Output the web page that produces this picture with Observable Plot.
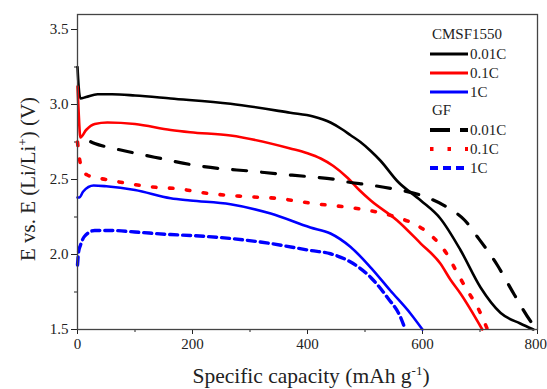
<!DOCTYPE html>
<html>
<head>
<meta charset="utf-8">
<script src="https://cdn.jsdelivr.net/npm/d3@7"></script>
<script src="https://cdn.jsdelivr.net/npm/@observablehq/plot@0.6"></script>
<style>
  html, body { margin: 0; padding: 0; background: #fff; }
  #chart { width: 547px; height: 389px; }
  #chart svg text { font-family: "Liberation Serif", "Times New Roman", serif; }
</style>
</head>
<body>
<div id="chart"></div>
<script>
// ---- tick values ----
const xMajor = [0, 200, 400, 600, 800];
const xMinor = [100, 300, 500, 700];
const yMajor = [1.5, 2.0, 2.5, 3.0, 3.5];
const yMinor = [1.75, 2.25, 2.75, 3.25];

// ---- legend labels ----
const legendGroups = ["CMSF1550", "GF"];
const legendRates = ["0.01C", "0.1C", "1C"];

// ---- CMSF1550 0.01C (black solid) ----
const cmsf001X = [0, 2, 5, 15, 35, 60, 100, 162, 266, 370, 410, 440, 460, 475, 492, 510, 527, 556, 597, 631, 666, 701, 736, 770, 793];
const cmsf001Y = [3.25, 3.12, 3.04, 3.05, 3.068, 3.068, 3.06, 3.04, 3.005, 2.945, 2.92, 2.88, 2.835, 2.795, 2.75, 2.69, 2.625, 2.49, 2.36, 2.24, 2.03, 1.78, 1.61, 1.54, 1.5];

// ---- CMSF1550 0.1C (red solid) ----
const cmsf01X = [0, 2, 5, 15, 30, 52, 100, 162, 196, 266, 370, 400, 423, 445, 470, 490, 510, 556, 597, 631, 649, 666, 704];
const cmsf01Y = [3.12, 2.95, 2.78, 2.83, 2.87, 2.88, 2.87, 2.83, 2.815, 2.793, 2.707, 2.675, 2.64, 2.59, 2.51, 2.43, 2.36, 2.227, 2.073, 1.94, 1.83, 1.74, 1.5];

// ---- CMSF1550 1C (blue solid) ----
const cmsf1X = [0, 3, 10, 28, 50, 100, 162, 196, 266, 336, 405, 440, 475, 510, 544, 579, 600];
const cmsf1Y = [2.38, 2.38, 2.42, 2.46, 2.455, 2.43, 2.375, 2.36, 2.335, 2.273, 2.18, 2.14, 2.05, 1.913, 1.76, 1.607, 1.5];

// ---- GF 0.01C (black dashed) ----
const gf001X = [0, 30, 60, 95, 145, 196, 248, 298, 349, 399, 449, 475, 501, 550, 601, 645, 673, 695, 730, 760, 791, 800];
const gf001Y = [2.8, 2.74, 2.71, 2.68, 2.64, 2.6, 2.573, 2.557, 2.537, 2.52, 2.5, 2.48, 2.467, 2.437, 2.39, 2.31, 2.23, 2.12, 1.93, 1.73, 1.54, 1.5];

// ---- GF 0.1C (red dotted) ----
const gf01X = [0, 3, 8, 17, 49, 78, 110, 139, 170, 228, 289, 350, 410, 470, 497, 532, 562, 591, 619, 643, 660, 678, 696, 713];
const gf01Y = [2.75, 2.65, 2.57, 2.53, 2.5, 2.48, 2.46, 2.447, 2.44, 2.407, 2.387, 2.373, 2.34, 2.315, 2.3, 2.273, 2.24, 2.193, 2.113, 2.0, 1.88, 1.76, 1.647, 1.5];

// ---- GF 1C (blue dashed) ----
const gf1X = [0, 2, 5, 12, 30, 60, 100, 162, 196, 266, 336, 405, 440, 475, 510, 539, 562, 570];
const gf1Y = [1.93, 2.02, 2.06, 2.12, 2.16, 2.16, 2.15, 2.133, 2.127, 2.107, 2.073, 2.027, 2.005, 1.95, 1.847, 1.713, 1.58, 1.5];

const toRows = (xs, ys) => xs.map((x, i) => ({x, y: ys[i]}));

const series = [
  {rows: toRows(cmsf001X, cmsf001Y), stroke: "#000000", w: 2.6, dash: null, off: 0},
  {rows: toRows(cmsf01X, cmsf01Y), stroke: "#ff0000", w: 2.6, dash: null, off: 0},
  {rows: toRows(cmsf1X, cmsf1Y), stroke: "#0000ff", w: 2.6, dash: null, off: 0},
  {rows: toRows(gf001X, gf001Y), stroke: "#000000", w: 3.2, dash: "14,15", off: 14},
  {rows: toRows(gf01X, gf01Y), stroke: "#ff0000", w: 3.6, dash: "3.5,13.5", off: 0},
  {rows: toRows(gf1X, gf1Y), stroke: "#0000ff", w: 3.4, dash: "8,5", off: 0}
];

const fontFam = "Liberation Serif";
const lastX = xMajor[xMajor.length - 1];

const chart = Plot.plot({
  width: 547,
  height: 389,
  marginLeft: 77,
  marginRight: 10,
  marginTop: 14,
  marginBottom: 60,
  style: {fontFamily: fontFam, fontSize: "15px", color: "#222", background: "#fff", overflow: "visible"},
  x: {domain: [0, 800]},
  y: {domain: [1.5, 3.6]},
  marks: [
    Plot.axisX({ticks: xMajor, tickSize: 5, tickPadding: 4, tickFormat: d => d === lastX ? "" : String(d), label: null, fontSize: 15, fontFamily: fontFam}),
    Plot.axisX({ticks: [lastX], tickSize: 0, tickPadding: 9, tickFormat: d => String(d), textAnchor: "end", dx: 9.5, label: null, fontSize: 15, fontFamily: fontFam}),
    Plot.axisX({ticks: xMinor, tickSize: 3, tickFormat: () => "", label: null}),
    Plot.axisY({ticks: yMajor, tickSize: 6, tickPadding: 3, tickFormat: d => d.toFixed(1), label: null, fontSize: 15, fontFamily: fontFam}),
    Plot.axisY({ticks: yMinor, tickSize: 3, tickFormat: () => "", label: null}),
    ...series.map(s => Plot.line(s.rows, {
      x: "x", y: "y", stroke: s.stroke, strokeWidth: s.w,
      strokeDasharray: s.dash, strokeDashoffset: s.off, curve: "monotone-x"
    })),
    Plot.frame({stroke: "#444", strokeWidth: 1.3})
  ]
});

document.getElementById("chart").appendChild(chart);

const svg = d3.select(chart);

// y axis label
const yl = svg.append("text")
  .attr("transform", "translate(35,179) rotate(-90)")
  .attr("text-anchor", "middle")
  .style("font-family", fontFam)
  .style("font-size", "21px")
  .attr("fill", "#222");
yl.append("tspan").text("E vs. E (Li/Li");
yl.append("tspan").attr("dy", -8).style("font-size", "13px").text("+");
yl.append("tspan").attr("dy", 8).text(") (V)");

// x axis label
const xl = svg.append("text")
  .attr("x", 311).attr("y", 383)
  .attr("text-anchor", "middle")
  .style("font-family", fontFam)
  .style("font-size", "21.5px")
  .attr("fill", "#222");
xl.append("tspan").text("Specific capacity (mAh g");
xl.append("tspan").attr("dy", -8).style("font-size", "13px").text("-1");
xl.append("tspan").attr("dy", 8).text(")");

// legend
const leg = svg.append("g")
  .style("font-family", fontFam).style("font-size", "15px")
  .attr("text-anchor", "start").attr("fill", "#222");
const groupY = [39, 115];
const rowY = [[54, 73, 92], [130, 149, 168]];
legendGroups.forEach((g, gi) => {
  leg.append("text").attr("x", 432).attr("y", groupY[gi]).attr("text-anchor", "start").text(g);
  legendRates.forEach((r, ri) => {
    const s = series[gi * 3 + ri];
    const yy = rowY[gi][ri];
    leg.append("line")
      .attr("x1", 430).attr("x2", 468).attr("y1", yy).attr("y2", yy)
      .attr("stroke", s.stroke).attr("stroke-width", s.w + 0.6)
      .attr("stroke-dasharray", gi === 0 ? null : (ri === 0 ? "20,10" : ri === 1 ? "3.5,14" : "8,5"));
    leg.append("text").attr("x", 470).attr("y", yy + 5).attr("text-anchor", "start").text(r);
  });
});
</script>
</body>
</html>
